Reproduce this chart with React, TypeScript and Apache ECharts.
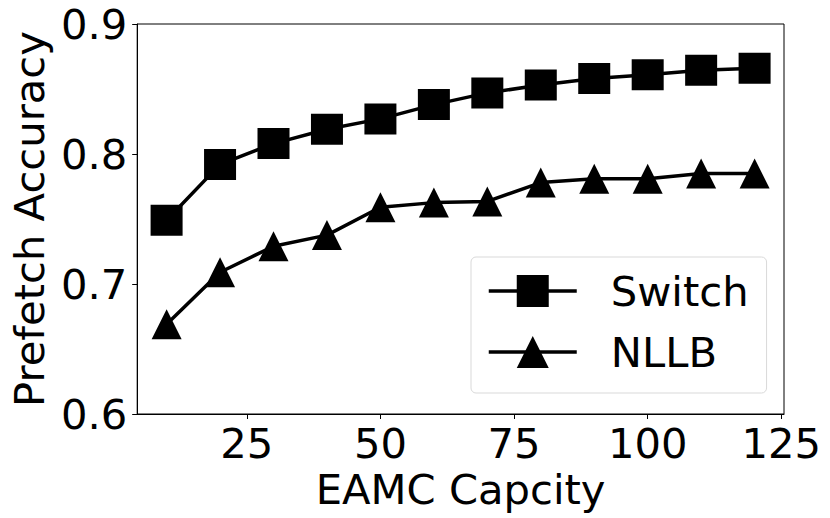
import React, { useEffect, useRef } from "react";
import * as echarts from "echarts";

const capacity = [10, 20, 30, 40, 50, 60, 70, 80, 90, 100, 110, 120];
const switchAcc = [0.749, 0.792, 0.808, 0.819, 0.827, 0.838, 0.847, 0.853, 0.858, 0.861, 0.8645, 0.866];
const nllbAcc = [0.669, 0.709, 0.729, 0.7376, 0.759, 0.7626, 0.7635, 0.778, 0.781, 0.781, 0.785, 0.785];
const xTicks = [25, 50, 75, 100, 125];
const seriesNames = ["Switch", "NLLB"];

const FONT = "DejaVu Sans";
const FS = 41.7;

export default function App() {
  const ref = useRef<HTMLDivElement>(null);
  useEffect(() => {
    document.body.style.margin = "0";
    const chart = echarts.init(ref.current!, null, { renderer: "svg" });
    const pair = (ys: number[]) => capacity.map((x, i) => [x, ys[i]]);
    chart.setOption({
      animation: false,
      textStyle: { fontFamily: FONT },
      grid: {
        left: 128,
        top: 24,
        right: 46,
        bottom: 104,
        show: true,
        borderColor: "#000",
        borderWidth: 1,
        backgroundColor: "transparent",
      },
      xAxis: {
        type: "value",
        min: 4.5,
        max: 125.5,
        name: "EAMC Capcity",
        nameLocation: "middle",
        nameGap: 50,
        nameTextStyle: { fontSize: FS, color: "#000", fontFamily: FONT, verticalAlign: "top" },
        axisLine: { show: true, lineStyle: { color: "#000", width: 1 } },
        axisTick: { show: true, inside: false, length: 5, customValues: xTicks, lineStyle: { color: "#000" } },
        axisLabel: { customValues: xTicks, fontSize: FS, color: "#000", fontFamily: FONT, margin: 8 },
        splitLine: { show: false },
      },
      yAxis: {
        type: "value",
        min: 0.6,
        max: 0.9,
        interval: 0.1,
        name: "Prefetch Accuracy",
        nameLocation: "middle",
        nameGap: 86,
        nameRotate: 90,
        nameTextStyle: { fontSize: FS, color: "#000", fontFamily: FONT },
        axisLine: { show: true, lineStyle: { color: "#000", width: 1 } },
        axisTick: { show: true, inside: false, length: 5, lineStyle: { color: "#000" } },
        axisLabel: {
          fontSize: FS,
          color: "#000",
          fontFamily: FONT,
          margin: 10,
          formatter: (v: number) => v.toFixed(1),
        },
        splitLine: { show: false },
      },
      legend: {
        orient: "vertical",
        left: 471,
        top: 257,
        width: 292,
        padding: [13, 18, 20, 16],
        itemWidth: 88,
        itemHeight: 40,
        itemGap: 19,
        backgroundColor: "#fff",
        borderColor: "#d9d9d9",
        borderWidth: 1,
        borderRadius: 5,
        lineStyle: { width: 3.5, color: "#000" },
        textStyle: { fontSize: FS, color: "#000", fontFamily: FONT, padding: [0, 0, 0, 29] },
        data: seriesNames,
      },
      series: [
        {
          name: seriesNames[0],
          type: "line",
          data: pair(switchAcc),
          symbol: "rect",
          symbolSize: [32, 31],
          lineStyle: { color: "#000", width: 3.5 },
          itemStyle: { color: "#000" },
        },
        {
          name: seriesNames[1],
          type: "line",
          data: pair(nllbAcc),
          symbol: "triangle",
          symbolSize: [30, 30],
          lineStyle: { color: "#000", width: 3.5 },
          itemStyle: { color: "#000" },
        },
      ],
    });
    return () => chart.dispose();
  }, []);
  return <div ref={ref} style={{ width: 830, height: 518 }} />;
}
